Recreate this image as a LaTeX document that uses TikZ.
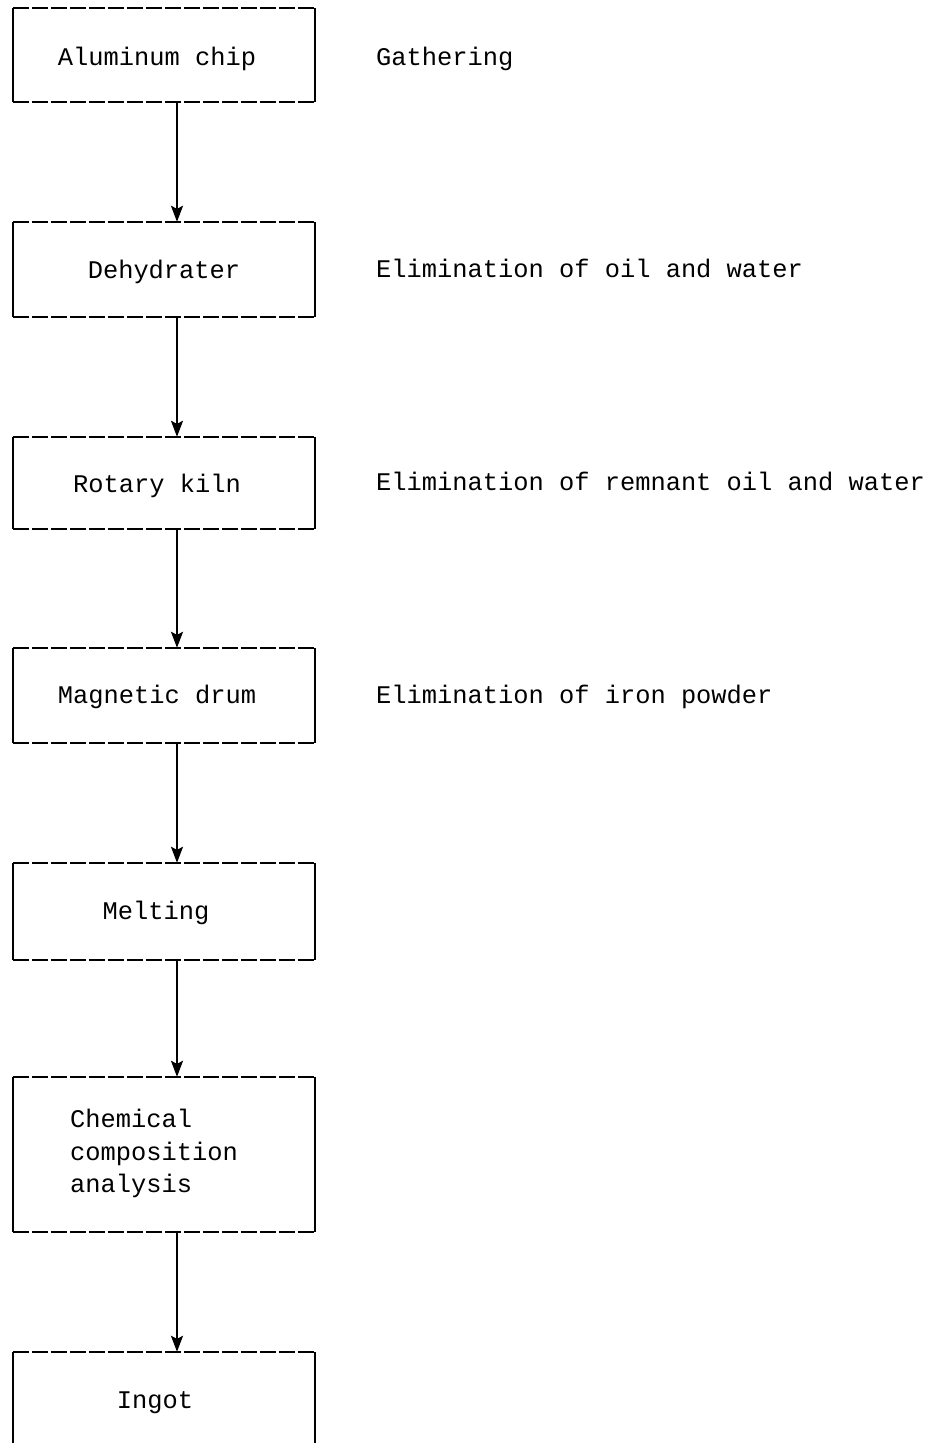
\documentclass[tikz,border=0pt]{standalone}
\usepackage{fontspec}
\setmonofont{Liberation Mono}
\usetikzlibrary{arrows.meta}
\newcommand{\boxsides}[1]{%
  \draw[hedge] (#1.north west) -- (#1.north east);
  \draw[hedge] (#1.south west) -- (#1.south east);
  \draw[vedge] (#1.north west) -- (#1.south west);
  \draw[vedge] (#1.north east) -- (#1.south east);}
\begin{document}
\begin{tikzpicture}[x=1pt,y=-1pt,
  every node/.style={inner sep=0pt, font=\ttfamily\fontsize{25.4}{32}\selectfont},
  procbox/.style={minimum width=302pt, draw=none},
  hedge/.style={line width=1.7pt, dash pattern=on 16pt off 3pt},
  vedge/.style={line width=1.7pt},
  flow/.style={line width=1.7pt, -{Stealth[length=16pt,width=12pt,inset=3pt]}},
  boxtext/.style={anchor=base},
  sidetext/.style={anchor=base west}]
\useasboundingbox[fill=white] (0,0) rectangle (934,1443);

\node[procbox, minimum height=94pt] (b1) at (164,55) {};
\node[procbox, minimum height=95pt] (b2) at (164,269.5) {};
\node[procbox, minimum height=92pt] (b3) at (164,483) {};
\node[procbox, minimum height=95pt] (b4) at (164,695.5) {};
\node[procbox, minimum height=97pt] (b5) at (164,911.5) {};
\node[procbox, minimum height=155pt] (b6) at (164,1154.5) {};
\node[procbox, minimum height=100pt] (b7) at (164,1402) {};

\boxsides{b1}
\boxsides{b2}
\boxsides{b3}
\boxsides{b4}
\boxsides{b5}
\boxsides{b6}
\draw[hedge] (b7.north west) -- (b7.north east);
\draw[vedge] (b7.north west) -- (b7.south west);
\draw[vedge] (b7.north east) -- (b7.south east);

\node[boxtext] (t1) at (157,65) {Aluminum chip};
\node[boxtext] (t2) at (164,278) {Dehydrater};
\node[boxtext] (t3) at (157,492) {Rotary kiln};
\node[boxtext] (t4) at (157,703) {Magnetic drum};
\node[boxtext] (t5) at (156,919) {Melting};
\node[anchor=north west, align=left, font=\ttfamily\fontsize{25.4}{32.5}\selectfont] (t6) at (70,1109) {Chemical\\composition\\analysis};
\node[boxtext] (t7) at (155,1408) {Ingot};

\node[sidetext] (s1) at (376,65) {Gathering};
\node[sidetext] (s2) at (376,277) {Elimination of oil and water};
\node[sidetext] (s3) at (376,490) {Elimination of remnant oil and water};
\node[sidetext] (s4) at (376,703) {Elimination of iron powder};

\draw[flow] ([xshift=13pt]b1.south) -- ([xshift=13pt]b2.north);
\draw[flow] ([xshift=13pt]b2.south) -- ([xshift=13pt]b3.north);
\draw[flow] ([xshift=13pt]b3.south) -- ([xshift=13pt]b4.north);
\draw[flow] ([xshift=13pt]b4.south) -- ([xshift=13pt]b5.north);
\draw[flow] ([xshift=13pt]b5.south) -- ([xshift=13pt]b6.north);
\draw[flow] ([xshift=13pt]b6.south) -- ([xshift=13pt]b7.north);
\end{tikzpicture}
\end{document}
